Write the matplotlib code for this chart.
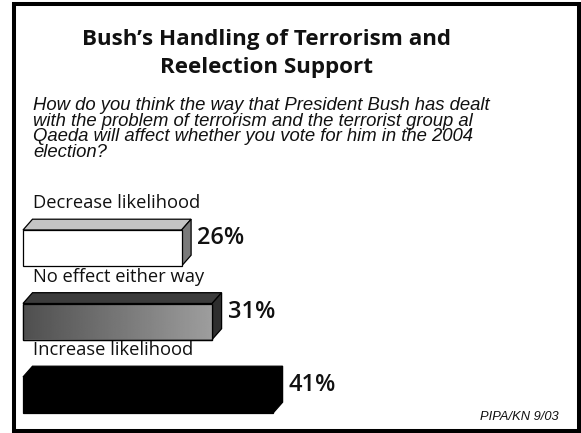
import numpy as np
import matplotlib
matplotlib.use('Agg')
import matplotlib.pyplot as plt
from matplotlib.patches import Polygon, Rectangle

# chart data
categories = ['Decrease likelihood', 'No effect either way', 'Increase likelihood']
values = [26, 31, 41]
value_labels = ['26%', '31%', '41%']
title_lines = ['Bush\u2019s Handling of Terrorism and', 'Reelection Support']
question_lines = [
    'How do you think the way that President Bush has dealt',
    'with the problem of terrorism and the terrorist group al',
    'Qaeda will affect whether you vote for him in the 2004',
    'election?',
]
source = 'PIPA/KN 9/03'

W, H = 581, 433
fig = plt.figure(figsize=(W / 100, H / 100), dpi=100)
fig.patch.set_facecolor('white')

def fy(py):
    return 1 - py / H

def fx(px):
    return px / W

# axes spanning the figure: x in percent, y in category index
ax = fig.add_axes([0, 0, 1, 1])
ppu = 6.1          # pixels per percent
x0 = 23            # pixel position of 0%
ax.set_xlim(-x0 / ppu, (W - x0) / ppu)
ax.set_ylim((H - 248) / 73.5, -248 / 73.5)
ax.axis('off')

bar_h = 36 / 73.5
dx = 9.5 / ppu
dy = -10.8 / 73.5

styles = [
    # front, top, side
    ('white', '#c4c4c4', '#7a7a7a'),
    ('grad', '#3c3c3c', '#2e2e2e'),
    ('black', 'black', 'black'),
]

for i, (v, st) in enumerate(zip(values, styles)):
    front, top, side = st
    y_top = i - bar_h / 2
    y_bot = i + bar_h / 2
    top_poly = Polygon([(0, y_top), (dx, y_top + dy), (v + dx, y_top + dy), (v, y_top)],
                       closed=True, facecolor=top, edgecolor='black', lw=0.9, zorder=2)
    side_poly = Polygon([(v, y_top), (v + dx, y_top + dy), (v + dx, y_bot + dy), (v, y_bot)],
                        closed=True, facecolor=side, edgecolor='black', lw=0.9, zorder=2)
    ax.add_patch(top_poly)
    ax.add_patch(side_poly)
    if front == 'grad':
        rect = Rectangle((0, y_top), v, bar_h, facecolor='#777777', edgecolor='black',
                         lw=0.9, zorder=3)
        ax.add_patch(rect)
        grad = np.linspace(0.31, 0.62, 256).reshape(1, -1)
        im = ax.imshow(grad, cmap='gray', vmin=0, vmax=1, aspect='auto',
                       extent=(0, v, y_bot, y_top), zorder=3.5, interpolation='bilinear')
        im.set_clip_path(rect)
        ax.add_patch(Rectangle((0, y_top), v, bar_h, facecolor='none', edgecolor='black',
                               lw=0.9, zorder=4))
    else:
        ax.add_patch(Rectangle((0, y_top), v, bar_h, facecolor=front, edgecolor='black',
                               lw=0.9, zorder=3))
    ax.text(10 / ppu, i - 0.61, categories[i], fontsize=13.2, family='Open Sans',
            va='center', ha='left', color='#111111')
    ax.text(v + dx + 6 / ppu, i - 0.13, value_labels[i], fontsize=17, family='Open Sans',
            fontweight='semibold', va='center', ha='left', color='#111111')

# title
for k, line in enumerate(title_lines):
    fig.text(fx(266), fy(45 + 27.5 * k), line, fontsize=16.1, family='Open Sans',
             fontweight='bold', ha='center', va='baseline', color='#111111')

# question
for k, line in enumerate(question_lines):
    fig.text(fx(33), fy(110 + 15.6 * k), line, fontsize=13.3, family='Liberation Sans',
             style='italic', ha='left', va='baseline', color='#111111')

fig.text(fx(559), fy(420), source, fontsize=9.3, family='Liberation Sans', style='italic',
         ha='right', va='baseline', color='#111111')

# frame
fig.patches.append(Rectangle((fx(14), fy(431)), fx(579 - 14), 1 - fy(431) - (1 - fy(4)),
                             transform=fig.transFigure, fill=False, edgecolor='black',
                             lw=2.9, zorder=10))

fig.savefig('out.png', dpi=100)
